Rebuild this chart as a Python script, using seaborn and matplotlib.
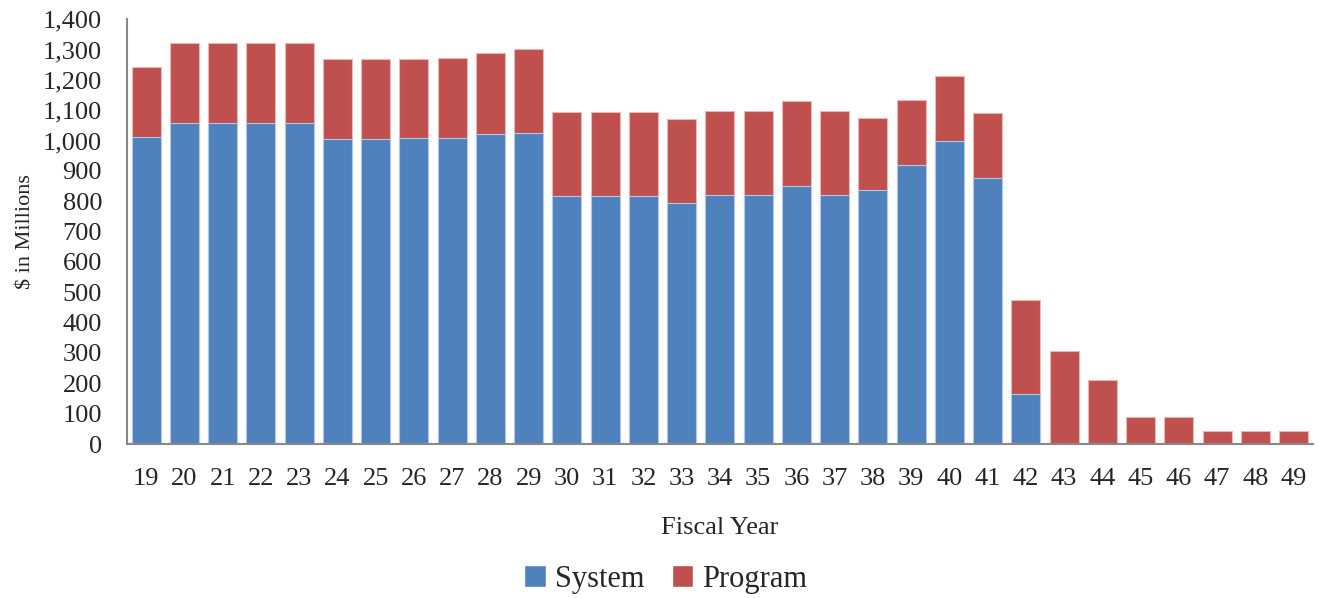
import matplotlib
matplotlib.use("Agg")
import matplotlib.pyplot as plt
import pandas as pd
import seaborn as sns
from matplotlib.patches import Patch
from matplotlib.ticker import FuncFormatter

# fiscal years (two-digit labels)
years = [str(y) for y in range(19, 50)]

# system cost, $M
system = [1010, 1058, 1058, 1058, 1058, 1006, 1006, 1007, 1007, 1023, 1025,
          817, 816, 816, 793, 819, 819, 851, 819, 836, 920, 1000, 878, 164,
          0, 0, 0, 0, 0, 0, 0]

# total (system + program), $M
total = [1243, 1321, 1321, 1321, 1321, 1269, 1269, 1270, 1271, 1287, 1303,
         1095, 1095, 1094, 1072, 1097, 1098, 1129, 1096, 1075, 1134, 1214, 1090, 474,
         306, 211, 89, 89, 42, 42, 42]

program = [t - s for t, s in zip(total, system)]

df = pd.DataFrame({"year": years, "System": system, "Program": program, "Total": total})

blue = "#4F81BD"
red = "#C0504D"

sns.set_style("white")
plt.rcParams["font.family"] = ["Liberation Serif", "DejaVu Serif"]

fig = plt.figure(figsize=(13.18, 5.98), dpi=100)
ax = fig.add_axes([0.0964, 0.2575, 0.8996, 0.7105])

# stacked look: total in red, system drawn over it in blue
sns.barplot(data=df, x="year", y="Total", order=years, color=red, saturation=1,
            width=0.76, edgecolor="#E8B8B6", linewidth=0.8, ax=ax)
sns.barplot(data=df, x="year", y="System", order=years, color=blue, saturation=1,
            width=0.76, edgecolor="#B3C8E4", linewidth=0.8, ax=ax)

ax.set_xlim(-0.5, len(years) - 0.5)
ax.set_ylim(0, 1400)
ax.set_yticks(range(0, 1401, 100))
ax.yaxis.set_major_formatter(FuncFormatter(lambda v, p: f"{int(v):,}"))

ax.tick_params(axis="both", length=0, labelsize=19)
ax.tick_params(axis="x", pad=17)
ax.tick_params(axis="y", pad=18)

ax.set_xlabel("Fiscal Year", fontsize=19, labelpad=20)
ax.set_ylabel("$ in Millions", fontsize=16, labelpad=5)

for side in ["top", "right"]:
    ax.spines[side].set_visible(False)
for side in ["left", "bottom"]:
    ax.spines[side].set_color("#888888")
    ax.spines[side].set_linewidth(1.5)

handles = [Patch(facecolor=blue, label="System"), Patch(facecolor=red, label="Program")]
fig.legend(handles=handles, loc="lower center", bbox_to_anchor=(0.5053, 0.002), ncol=2,
           frameon=False, fontsize=22, handlelength=0.7, handleheight=0.7,
           handletextpad=0.3, columnspacing=0.9, borderpad=0.1, borderaxespad=0)

fig.savefig("out.png", dpi=100)
